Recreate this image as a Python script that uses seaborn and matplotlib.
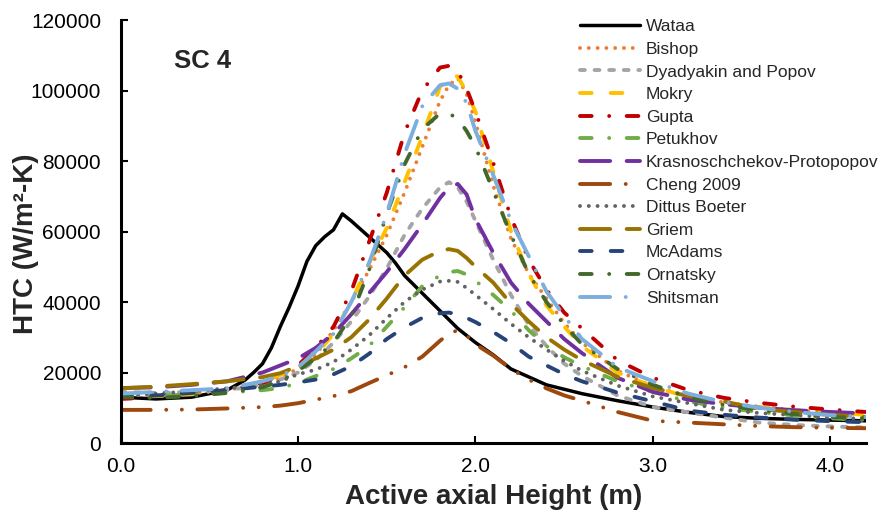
import matplotlib
matplotlib.use("Agg")
import matplotlib.pyplot as plt
import pandas as pd
import seaborn as sns

# ---------------- data ----------------
height = [0.0, 0.2, 0.4, 0.6, 0.8, 0.9, 1.0, 1.1, 1.2, 1.3, 1.4, 1.5, 1.6, 1.7, 1.8, 1.85,
          1.9, 1.95, 2.0, 2.1, 2.2, 2.3, 2.4, 2.5, 2.6, 2.8, 3.0, 3.2, 3.4, 3.6, 3.8, 4.0, 4.2]

wataa_height = [0.0, 0.2, 0.4, 0.6, 0.7, 0.75, 0.8, 0.85, 0.9, 0.95, 1.0, 1.05, 1.1, 1.15, 1.2,
                1.25, 1.3, 1.4, 1.5, 1.55, 1.6, 1.7, 1.8, 1.9, 2.0, 2.1, 2.2, 2.4, 2.6, 2.8,
                3.0, 3.2, 3.4, 3.6, 3.8, 4.0, 4.2]
wataa = [13000, 12500, 13000, 15000, 17800, 20000, 22500, 27000, 33000, 38500, 44500, 51500,
         56000, 58500, 60500, 65000, 63000, 58500, 54000, 51000, 47500, 42500, 37500, 32500,
         28500, 25000, 21000, 16500, 14000, 12000, 10200, 8700, 7500, 7000, 6700, 6500, 6300]

bishop = [13500, 13700, 14000, 15000, 17000, 18800, 21000, 25000, 32000, 40000, 49000, 59000,
          71000, 84000, 97000, 101500, 103500, 99000, 91000, 73000, 58000, 48000, 41000, 34000,
          28500, 20500, 16000, 13300, 11500, 10300, 9300, 8600, 8000]
dyadyakin = [14500, 14200, 14500, 15000, 16500, 18000, 20000, 23500, 28500, 34500, 41500, 49500,
             59000, 66500, 72500, 74000, 72500, 68500, 63000, 52000, 42000, 33500, 27500, 22500,
             19000, 13500, 10200, 8700, 7200, 5800, 5100, 4700, 4400]
mokry = [13000, 13300, 13800, 15000, 17500, 19300, 21500, 25000, 31000, 40000, 51000, 61000,
         74000, 87000, 101000, 104200, 104000, 99500, 94000, 77000, 60000, 48000, 39000, 33000,
         27500, 20000, 16000, 13000, 11500, 10200, 9300, 8600, 8000]
gupta = [12500, 13000, 13800, 15000, 17000, 19000, 22000, 27000, 33000, 43000, 57000, 71000,
         88000, 100000, 106500, 107000, 105500, 100500, 94000, 79500, 64000, 52000, 43500, 37000,
         32500, 23500, 18500, 15000, 12800, 11400, 10300, 9500, 8800]
petukhov = [13000, 13300, 13800, 14300, 15000, 15600, 17000, 19000, 21000, 24000, 27500, 33000,
            38500, 44500, 47500, 48500, 48800, 47800, 46000, 42000, 37500, 32000, 27500, 24300,
            21800, 17500, 14500, 11800, 10000, 8800, 7800, 7000, 6500]
krasnoschchekov = [15600, 15800, 16500, 17500, 20000, 22000, 24000, 27000, 31000, 36500, 42500,
                   48500, 55000, 62000, 69500, 72500, 73500, 70500, 63500, 54000, 45500, 39500,
                   34500, 29500, 25500, 18500, 14500, 12300, 11000, 10000, 9300, 8800, 8400]
cheng = [9400, 9400, 9500, 9800, 10200, 10600, 11300, 12300, 13300, 14700, 17000, 19200, 21500,
         24500, 29000, 31000, 32000, 30500, 28000, 24800, 21000, 18000, 15500, 13500, 12000, 8800,
         6300, 5800, 5300, 4800, 4500, 4300, 4200]
dittus = [13500, 14000, 14700, 15500, 16500, 17500, 19500, 20800, 23000, 26500, 30500, 35400,
          40000, 43500, 45800, 46000, 45700, 44000, 42000, 38000, 33800, 30000, 26500, 23300,
          20500, 16300, 13200, 11300, 9400, 8500, 7900, 7300, 6800]
griem = [15500, 16000, 16700, 17500, 18700, 19800, 21800, 24000, 26500, 30000, 35000, 41000,
         47500, 52000, 54500, 55000, 54500, 52500, 50000, 45500, 39500, 34500, 30000, 26500,
         23500, 18800, 15600, 13300, 11800, 9600, 8800, 8000, 7400]
mcadams = [13000, 13500, 14200, 15000, 16000, 16500, 17200, 18000, 19500, 21800, 25300, 29500,
           32800, 35500, 36800, 37000, 36500, 35500, 34300, 31500, 28300, 24500, 22000, 19500,
           17500, 14300, 11800, 9200, 8000, 7200, 6600, 6200, 5900]
ornatsky = [13000, 12800, 13300, 14200, 15800, 17500, 20500, 24000, 28500, 36000, 49000, 65000,
            79000, 89000, 93500, 93500, 92000, 88500, 84000, 71500, 59000, 48000, 40000, 33500,
            28000, 21000, 16500, 13000, 10800, 9300, 8200, 7400, 7000]
shitsman = [14000, 14500, 15000, 15500, 17500, 19000, 21500, 26000, 31000, 40000, 51000, 65000,
            82000, 95500, 101500, 102000, 100500, 96500, 88500, 76000, 63000, 53000, 43000, 36000,
            29500, 21500, 17500, 14000, 11600, 10000, 8800, 7900, 7400]

series_names = ["Bishop", "Dyadyakin and Popov", "Mokry", "Gupta", "Petukhov",
                "Krasnoschchekov-Protopopov", "Cheng 2009", "Dittus Boeter", "Griem",
                "McAdams", "Ornatsky", "Shitsman"]
series_values = [bishop, dyadyakin, mokry, gupta, petukhov, krasnoschchekov, cheng,
                 dittus, griem, mcadams, ornatsky, shitsman]

x_ticks = [0.0, 1.0, 2.0, 3.0, 4.0]
y_ticks = [0, 20000, 40000, 60000, 80000, 100000, 120000]

# ---------------- styles ----------------
colors = {
    "Wataa": "#000000",
    "Bishop": "#ED7D31",
    "Dyadyakin and Popov": "#A5A5A5",
    "Mokry": "#FFC000",
    "Gupta": "#C00000",
    "Petukhov": "#70AD47",
    "Krasnoschchekov-Protopopov": "#7030A0",
    "Cheng 2009": "#9E480E",
    "Dittus Boeter": "#636363",
    "Griem": "#997300",
    "McAdams": "#264478",
    "Ornatsky": "#43682B",
    "Shitsman": "#7CAFDD",
}
dot = (0, (0.01, 2.25))
sys_dash = (0, (1.25, 2.5))
dash = (0, (3.0, 4.9))
dash_dot = (0, (3.0, 4.5, 0.01, 4.5))
long_dash = (0, (7.75, 4.25))
long_dash_dot = (0, (7.75, 4.0, 0.01, 4.0))
long_dash_dot_dot = (0, (7.75, 4.0, 0.01, 4.0, 0.01, 4.0))
styles = {
    "Bishop": dot,
    "Dyadyakin and Popov": sys_dash,
    "Mokry": dash,
    "Gupta": dash_dot,
    "Petukhov": dash_dot,
    "Krasnoschchekov-Protopopov": long_dash,
    "Cheng 2009": long_dash_dot_dot,
    "Dittus Boeter": dot,
    "Griem": long_dash,
    "McAdams": dash,
    "Ornatsky": dash_dot,
    "Shitsman": long_dash_dot,
}

# ---------------- figure ----------------
sns.set_theme(style="ticks")
plt.rcParams["font.family"] = ["Liberation Sans", "DejaVu Sans"]

fig = plt.figure(figsize=(8.83, 5.17), dpi=100)
ax = fig.add_axes([0.1365, 0.1431, 0.8442, 0.8182])

df_w = pd.DataFrame({"height": wataa_height, "htc": wataa})
sns.lineplot(data=df_w, x="height", y="htc", ax=ax, color=colors["Wataa"], lw=2.5,
             label="Wataa", sort=False, estimator=None, solid_capstyle="round")

for name, vals in zip(series_names, series_values):
    df = pd.DataFrame({"height": height, "htc": vals})
    sns.lineplot(data=df, x="height", y="htc", ax=ax, color=colors[name], lw=2.8,
                 linestyle=styles[name], dash_capstyle="round", label=name,
                 sort=False, estimator=None)

ax.set_xlim(0, 4.2)
ax.set_ylim(0, 120000)
ax.set_xticks(x_ticks)
ax.set_xticklabels([f"{t:.1f}" for t in x_ticks])
ax.set_yticks(y_ticks)
ax.set_yticklabels([str(t) for t in y_ticks])
ax.tick_params(axis="both", direction="in", length=5, width=1.5, labelsize=15,
               colors="black")
ax.tick_params(axis="x", pad=10)
ax.tick_params(axis="y", pad=14)
for side in ["left", "bottom"]:
    ax.spines[side].set_linewidth(2.2)
    ax.spines[side].set_color("black")
for side in ["top", "right"]:
    ax.spines[side].set_visible(False)

ax.set_xlabel("Active axial Height (m)", fontsize=20, fontweight="bold", labelpad=6)
ax.set_ylabel("HTC (W/m²-K)", fontsize=20, fontweight="bold")
ax.yaxis.set_label_coords(-0.11, 0.47)

ax.text(0.072, 0.903, "SC 4", transform=ax.transAxes, fontsize=18.5, fontweight="bold",
        ha="left", va="center")

handles, labels = ax.get_legend_handles_labels()
ax.legend(handles, labels, loc="upper left", bbox_to_anchor=(0.657, 0.963),
          bbox_transform=fig.transFigure, frameon=False, fontsize=12.5,
          handlelength=3.45, handletextpad=0.35, labelspacing=0.43, borderpad=0,
          borderaxespad=0)

fig.savefig("out.png", dpi=100)
